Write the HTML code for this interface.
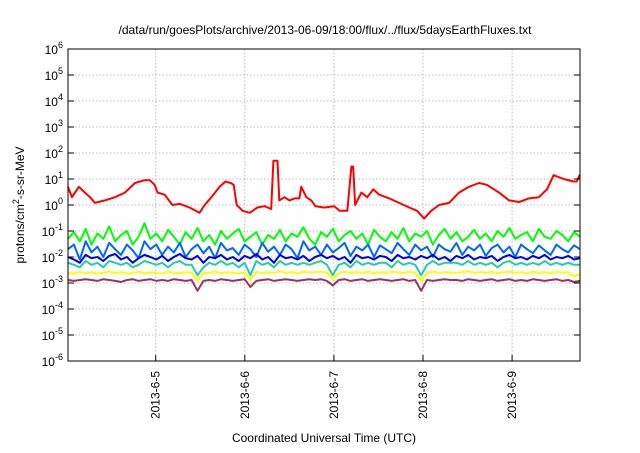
<!DOCTYPE html>
<html><head><meta charset="utf-8"><style>
body{margin:0;background:#fff;width:640px;height:448px;overflow:hidden}
svg{font-family:"Liberation Sans",sans-serif}
</style></head><body>
<svg id="chart" width="640" height="448" xmlns="http://www.w3.org/2000/svg">
<text x="325" y="34" font-size="12" text-anchor="middle">/data/run/goesPlots/archive/2013-06-09/18:00/flux/../flux/5daysEarthFluxes.txt</text>
<text transform="translate(24,205) rotate(-90)" font-size="12" text-anchor="middle">protons/cm<tspan dy="-5" font-size="9">2</tspan><tspan dy="5">-s-sr-MeV</tspan></text>
<text x="324" y="442" font-size="12" text-anchor="middle">Coordinated Universal Time (UTC)</text>
<g id="grid"></g><g id="series"></g><g id="axes"></g>
</svg>
<script>
const dayLabels=["2013-6-5","2013-6-6","2013-6-7","2013-6-8","2013-6-9"];
const dayHours=[24,48,72,96,120];
const yExps=[-6,-5,-4,-3,-2,-1,0,1,2,3,4,5,6];
const tStart=0.36, tEnd=138.3;
const redHours=[0.35,1.4,3.3,4.9,6.3,7.6,10.3,13,15.7,18.4,21,22.4,23.7,24.5,26.4,28.5,30.5,33.1,35.8,37.2,39,41.2,42.8,44.2,45,45.8,47.4,49.3,51.4,53.3,55.1,55.7,56.8,57.3,58.7,60,61.4,62.7,63.2,64.6,65.9,67,69.4,72.1,73.5,75.6,76.7,77.2,77.7,79.4,81,82.6,84.2,86.9,89.6,92.3,94.4,96.3,98.2,100.3,103,105.7,108.4,111.1,113.2,116.5,119.2,121.9,124.5,127.2,129.4,131.2,133.9,136.6,137.4,138.3];
const red=[5,2,5,3,2,1.2,1.5,2,3,7,9,9,6,3,2.5,1,1.1,0.8,0.5,1,2,5,8,7,6,1,0.6,0.5,0.8,0.9,0.7,50,50,1.5,2,1.5,1.8,1.8,5,2,1.5,0.9,0.8,0.9,0.6,0.6,30,30,1,3,2,4,2.5,1.8,1.2,0.8,0.6,0.3,0.6,1,1.2,3,5,7,6,3,1.5,1.3,1.8,2,4,14,10,8,8,15];
const green=[0.05,0.09,0.04,0.12,0.03,0.08,0.05,0.15,0.04,0.07,0.1,0.03,0.06,0.2,0.05,0.08,0.04,0.11,0.06,0.03,0.09,0.05,0.13,0.04,0.07,0.03,0.1,0.05,0.08,0.12,0.04,0.06,0.09,0.03,0.07,0.05,0.11,0.04,0.08,0.06,0.14,0.05,0.03,0.09,0.06,0.12,0.04,0.07,0.1,0.05,0.08,0.03,0.11,0.06,0.04,0.09,0.05,0.13,0.04,0.08,0.06,0.1,0.03,0.07,0.12,0.05,0.09,0.04,0.06,0.11,0.05,0.08,0.04,0.1,0.06,0.13,0.05,0.07,0.09,0.04,0.12,0.06,0.05,0.1,0.07,0.04,0.09,0.06];
const ltblue=[0.02,0.03,0.008,0.04,0.015,0.025,0.01,0.035,0.02,0.012,0.03,0.018,0.009,0.04,0.02,0.03,0.012,0.025,0.015,0.035,0.01,0.02,0.03,0.014,0.025,0.009,0.035,0.018,0.022,0.012,0.03,0.02,0.01,0.035,0.016,0.025,0.012,0.03,0.02,0.009,0.04,0.018,0.025,0.012,0.03,0.015,0.022,0.035,0.011,0.025,0.018,0.03,0.01,0.028,0.02,0.014,0.035,0.02,0.012,0.03,0.018,0.025,0.01,0.03,0.02,0.016,0.035,0.012,0.025,0.018,0.03,0.011,0.022,0.03,0.015,0.025,0.01,0.03,0.02,0.014,0.028,0.018,0.012,0.03,0.02,0.015,0.028,0.02];
const blue=[0.01,0.008,0.006,0.012,0.009,0.01,0.007,0.011,0.013,0.008,0.01,0.006,0.009,0.012,0.01,0.008,0.011,0.007,0.01,0.013,0.009,0.008,0.011,0.006,0.01,0.009,0.012,0.008,0.01,0.007,0.011,0.009,0.013,0.008,0.01,0.006,0.012,0.009,0.01,0.008,0.011,0.007,0.01,0.012,0.009,0.011,0.008,0.01,0.006,0.012,0.009,0.01,0.008,0.011,0.01,0.007,0.012,0.009,0.01,0.008,0.011,0.009,0.012,0.008,0.01,0.007,0.011,0.009,0.012,0.008,0.01,0.009,0.011,0.007,0.01,0.012,0.009,0.01,0.008,0.011,0.009,0.012,0.008,0.01,0.009,0.011,0.008,0.009];
const teal=[0.006,0.005,0.004,0.007,0.005,0.006,0.004,0.007,0.006,0.005, 0.006,0.004,0.005,0.007,0.006,0.005,0.006,0.004,0.006,0.007, 0.005,0.005,0.002,0.004,0.006,0.005,0.007,0.005,0.006,0.004, 0.006,0.002,0.007,0.005,0.006,0.004,0.007,0.005,0.006,0.005, 0.006,0.005,0.006,0.007,0.005,0.002,0.005,0.006,0.004,0.007, 0.005,0.006,0.005,0.006,0.006,0.004,0.007,0.005,0.006,0.005, 0.002,0.005,0.007,0.005,0.006,0.006,0.006,0.005,0.007,0.005, 0.006,0.005,0.006,0.004,0.006,0.007,0.005,0.006,0.005,0.006, 0.005,0.007,0.005,0.006,0.005,0.006,0.005,0.005];
const yellow=[0.0025,0.0022,0.0027,0.0024,0.0026,0.0023,0.0025,0.0028,0.0024,0.0026, 0.0023,0.0025,0.0027,0.0024,0.0026,0.0025,0.0023,0.0027,0.0025,0.0024, 0.0026,0.0025,0.0012,0.0024,0.0025,0.0027,0.0024,0.0026,0.0025,0.0023, 0.0026,0.0013,0.0027,0.0024,0.0026,0.0025,0.0028,0.0025,0.0026,0.0024, 0.0027,0.0026,0.0026,0.0027,0.0025,0.0014,0.0024,0.0027,0.0025,0.0026, 0.0025,0.0027,0.0024,0.0026,0.0025,0.0027,0.0026,0.0024,0.0027,0.0025, 0.0012,0.0024,0.0027,0.0025,0.0026,0.0025,0.0025,0.0026,0.0028,0.0025, 0.0026,0.0025,0.0027,0.0024,0.0026,0.0027,0.0025,0.0026,0.0024,0.0027, 0.0025,0.0026,0.0024,0.0027,0.0025,0.0026,0.0018,0.0022];
const purple=[0.0013,0.0012,0.0013,0.0014,0.0013,0.0012,0.0014,0.0013,0.0012,0.0011, 0.0013,0.0014,0.0012,0.0013,0.0014,0.0012,0.0013,0.0012,0.0014,0.0013, 0.0012,0.0013,0.0005,0.0012,0.0013,0.0012,0.0014,0.0013,0.0012,0.0013, 0.0014,0.0007,0.0012,0.0013,0.0014,0.0012,0.0013,0.0014,0.0013,0.0012, 0.0013,0.0014,0.0013,0.0014,0.0012,0.0008,0.0013,0.0014,0.0012,0.0013, 0.0014,0.0012,0.0013,0.0014,0.0013,0.0012,0.0013,0.0014,0.0012,0.0013, 0.0005,0.0013,0.0012,0.0013,0.0014,0.0013,0.0013,0.0012,0.0014,0.0013, 0.0012,0.0013,0.0014,0.0012,0.0013,0.0014,0.0012,0.0013,0.0012,0.0014, 0.0013,0.0012,0.0013,0.0014,0.0012,0.0013,0.0011,0.0012];
const L=68,R=580,T=49,B=361;
const xs=h=>L+(h-tStart)/(tEnd-tStart)*(R-L);
const ys=v=>B-(Math.log10(v)+6)/12*(B-T);
const NS="http://www.w3.org/2000/svg";
function mk(tag,attrs,parent){const e=document.createElementNS(NS,tag);for(const k in attrs)e.setAttribute(k,attrs[k]);parent.appendChild(e);return e;}
const grid=document.getElementById('grid'),axes=document.getElementById('axes'),ser=document.getElementById('series');
yExps.forEach(e=>{const y=ys(Math.pow(10,e));
 if(e>-6&&e<6){const g=mk('line',{x1:L,x2:R,y1:y,y2:y,stroke:'#aaa','stroke-width':0.8,'stroke-dasharray':'1.5,2'},grid);
 
 }
 const t1=mk('line',{x1:L,x2:L+6,y1:y,y2:y,stroke:'#000'},axes);
 
 
 const t2=mk('line',{x1:R-6,x2:R,y1:y,y2:y,stroke:'#000'},axes);
 
 
 const tx=mk('text',{x:L-5,y:y+5,'font-size':12,'text-anchor':'end'},axes);
 
 
 tx.innerHTML='10<tspan dy="-6" font-size="9">'+e+'</tspan>';
});
dayHours.forEach((h,i)=>{const x=xs(h);
 const g=mk('line',{x1:x,x2:x,y1:T,y2:B,stroke:'#aaa','stroke-width':0.8,'stroke-dasharray':'1.5,2'},grid);
 
 
 const t=mk('line',{x1:x,x2:x,y1:B,y2:B-6,stroke:'#000'},axes);
 
 
 const tx=mk('text',{transform:`translate(${x+4},${B+10}) rotate(-90)`,'font-size':12,'text-anchor':'end'},axes);
 
 
 tx.textContent=dayLabels[i];
});
const fr=mk('rect',{x:L,y:T,width:R-L,height:B-T,fill:'none',stroke:'#000','stroke-width':1},axes);


const list=[[green,'#00ff00','series-green'],[ltblue,'#0066ff','series-light-blue'],[blue,'#0000ee','series-blue'],[teal,'#22ccaa','series-teal'],[yellow,'#ffff00','series-yellow'],[purple,'#993366','series-purple']];
list.forEach(([d,c,n])=>{const pts=d.map((v,i)=>xs(tStart+i/(d.length-1)*(tEnd-tStart)).toFixed(1)+','+ys(v).toFixed(1)).join(' ');
 const p=mk('polyline',{points:pts,fill:'none',stroke:c,'stroke-width':2,'stroke-linejoin':'round'},ser);
 
 
});
const redPts=red.map((v,i)=>xs(redHours[i]).toFixed(1)+','+ys(v).toFixed(1)).join(' ');
const rp=mk('polyline',{points:redPts,fill:'none',stroke:'#ff0000','stroke-width':2,'stroke-linejoin':'round'},ser);


</script>
</body></html>
